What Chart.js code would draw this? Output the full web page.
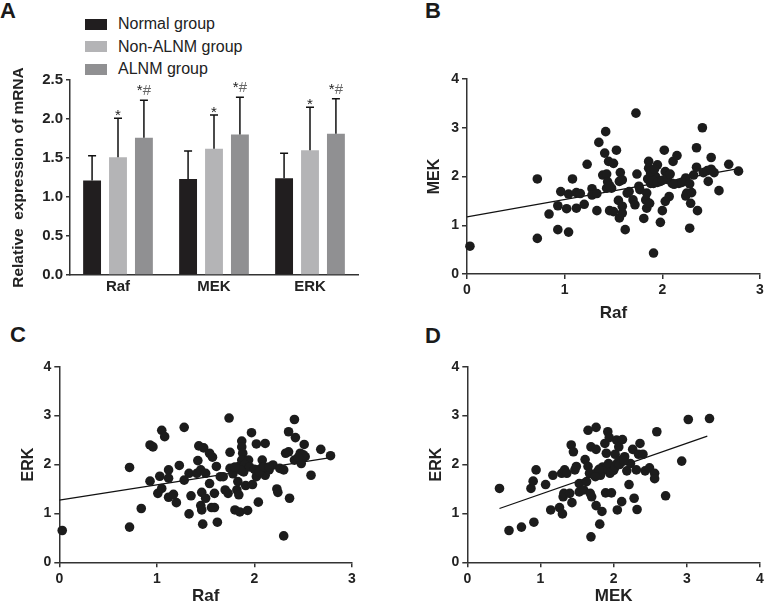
<!DOCTYPE html>
<html>
<head>
<meta charset="utf-8">
<script src="https://cdn.jsdelivr.net/npm/chart.js@4.4.0/dist/chart.umd.min.js"></script>
<style>
body{margin:0;background:#fff;width:765px;height:605px;position:relative;overflow:hidden;font-family:"Liberation Sans",Arial,sans-serif}
canvas{position:absolute}
.tag{position:absolute;font-weight:bold;font-size:22px;line-height:1;color:#1a1a1a}
.row{position:absolute;left:85px;height:22px;display:flex;align-items:center;font-size:16px;color:#222;white-space:nowrap}
.box{width:22px;height:11px;margin-right:11px}
</style>
</head>
<body>
<div class="tag" style="left:0;top:0">A</div>
<div class="tag" style="left:425px;top:0">B</div>
<div class="tag" style="left:10px;top:324px">C</div>
<div class="tag" style="left:425px;top:325px">D</div>
<div id="legend"></div>
<canvas id="chartA" width="380" height="300" style="left:0;top:0"></canvas>
<canvas id="chartB" width="385" height="325" style="left:380px;top:0"></canvas>
<canvas id="chartC" width="380" height="310" style="left:0;top:300px"></canvas>
<canvas id="chartD" width="385" height="310" style="left:380px;top:300px"></canvas>
<script>
// panel A: bar chart
const genes = ["Raf", "MEK", "ERK"];
const groups = ["Normal group", "Non-ALNM group", "ALNM group"];
const groupColors = ["#211e1f", "#b4b4b6", "#909092"];
const normalMean = [1.21, 1.23, 1.24];
const nonAlnmMean = [1.51, 1.62, 1.60];
const alnmMean = [1.76, 1.80, 1.81];
const normalSd = [0.32, 0.36, 0.32];
const nonAlnmSd = [0.50, 0.43, 0.55];
const alnmSd = [0.48, 0.48, 0.45];
const marks = [["", "", ""], ["*", "*", "*"], ["*#", "*#", "*#"]];
const yTicksA = [0, 0.5, 1.0, 1.5, 2.0, 2.5];

// panel B: Raf vs MEK
const bRaf = [0.03,0.72,0.72,0.84,0.93,0.93,0.96,1.04,1.08,1.02,1.04,1.12,1.12,1.16,1.20,1.23,1.28,1.28,1.33,1.33,
  1.35,1.42,1.41,1.39,1.43,1.45,1.50,1.44,1.43,1.48,1.46,1.53,1.46,1.50,1.55,1.57,1.56,1.59,1.56,1.59,
  1.59,1.62,1.64,1.66,1.70,1.72,1.73,1.74,1.76,1.77,1.81,1.83,1.84,1.84,1.87,1.86,1.86,1.88,1.88,1.90,
  1.91,1.91,1.95,1.93,1.98,1.98,2.00,2.02,2.03,2.03,2.05,2.07,2.10,2.11,2.15,2.17,2.22,2.24,2.24,2.25,
  2.28,2.29,2.30,2.32,2.35,2.35,2.36,2.41,2.42,2.46,2.47,2.50,2.50,2.53,2.58,2.68,2.78,
  1.85,1.90,1.95,2.00,1.88,1.92,2.05,2.08,2.12,2.20,2.28];
const bMek = [0.57,1.95,0.73,1.23,0.91,1.40,1.69,0.86,1.95,1.34,1.64,1.35,1.67,1.65,1.43,2.25,1.75,1.62,1.65,1.30,
  2.70,2.92,2.48,2.03,2.05,2.31,2.27,1.89,1.76,1.76,1.81,2.54,1.30,1.28,1.51,2.08,1.90,1.93,1.15,1.25,
  1.39,0.91,1.66,1.69,1.52,1.42,3.30,2.05,1.80,1.73,1.14,1.52,1.66,1.35,1.45,2.31,2.17,2.07,1.86,2.03,
  1.86,0.43,2.24,2.00,1.06,1.90,1.30,2.54,2.10,1.49,1.94,1.59,1.86,2.31,2.43,1.86,1.90,1.97,1.60,1.66,
  0.94,1.45,1.67,2.03,2.59,2.19,1.30,3.00,2.08,2.12,1.90,2.39,2.15,2.08,1.71,2.25,2.11,
  1.95,1.92,1.88,1.92,2.10,2.15,2.00,2.05,1.84,1.88,1.85];
const bFitRaf = [0, 2.78];
const bFitMek = [1.17, 2.16];

// panel C: Raf vs ERK
const cRaf = [0.03,0.72,0.72,0.84,0.93,0.93,0.96,1.03,1.05,1.01,1.05,1.08,1.12,1.12,1.12,1.17,1.20,1.23,1.28,1.28,
  1.33,1.35,1.33,1.41,1.42,1.43,1.45,1.46,1.45,1.46,1.47,1.48,1.50,1.50,1.54,1.54,1.57,1.56,1.59,1.59,
  1.61,1.62,1.65,1.68,1.70,1.73,1.74,1.75,1.75,1.78,1.80,1.82,1.83,1.84,1.84,1.85,1.87,1.87,1.88,1.87,
  1.89,1.89,1.91,1.93,1.94,1.97,1.98,2.02,2.02,2.04,2.04,2.08,2.08,2.11,2.11,2.12,2.15,2.19,2.23,2.24,
  2.26,2.30,2.30,2.32,2.35,2.35,2.36,2.41,2.42,2.41,2.47,2.48,2.51,2.52,2.58,2.68,2.78,
  1.90,1.95,2.00,2.05,2.10,2.15,1.86,1.80,2.50,2.45];
const cErk = [0.65,1.94,0.72,1.10,1.66,2.40,2.36,1.76,1.51,1.41,2.70,2.57,1.89,1.72,1.33,1.39,1.22,1.98,2.76,1.68,
  0.99,1.36,1.82,1.82,2.08,2.38,1.89,1.43,1.16,1.07,0.78,2.34,1.82,1.31,1.61,2.23,2.15,1.12,1.12,1.41,
  1.96,0.82,1.75,1.75,1.48,1.41,2.95,2.25,1.92,1.81,1.07,1.48,1.65,1.38,1.96,1.03,2.48,2.36,2.23,2.09,
  1.96,1.85,1.57,1.06,2.09,2.65,1.59,2.42,1.75,1.89,1.23,2.09,1.94,2.43,1.78,1.92,1.89,1.99,1.50,1.43,
  1.92,1.89,0.54,2.23,2.67,2.26,1.31,2.92,2.55,2.09,2.23,2.02,2.41,2.16,1.78,2.31,2.18,
  2.00,1.95,1.90,1.85,1.95,1.95,1.88,1.95,2.20,2.15];
const cFitRaf = [0, 2.78];
const cFitErk = [1.27, 2.14];

// panel D: MEK vs ERK
const dMek = [0.44,0.57,0.74,0.87,0.90,0.91,0.94,1.07,1.14,1.17,1.26,1.29,1.30,1.31,1.32,1.33,1.36,1.40,1.42,1.43,
  1.45,1.47,1.49,1.53,1.53,1.59,1.61,1.63,1.65,1.65,1.67,1.68,1.69,1.69,1.70,1.76,1.76,1.76,1.79,1.81,
  1.84,1.87,1.88,1.89,1.90,1.92,1.94,1.95,1.97,1.99,2.02,2.04,2.05,2.07,2.09,2.11,2.12,2.15,2.18,2.21,
  2.23,2.26,2.28,2.31,2.32,2.34,2.36,2.40,2.43,2.49,2.56,2.56,2.59,2.71,2.93,3.02,3.31,
  1.72,1.78,1.82,1.85,1.90,1.93,1.96,2.00,2.02,2.05,2.08,1.80,1.75,2.14];
const dErk = [1.51,0.65,0.72,1.51,1.66,0.82,1.89,1.59,1.07,1.78,1.12,1.82,0.99,1.34,1.41,1.89,1.82,1.41,2.40,1.22,
  2.26,1.89,1.96,1.61,1.44,1.48,2.10,1.65,2.70,1.96,1.82,1.41,0.52,2.36,1.34,2.76,2.31,1.16,1.82,0.78,
  1.04,1.89,2.43,1.42,2.23,2.67,2.55,1.82,1.42,1.96,2.21,2.50,1.07,2.36,2.09,1.24,2.51,2.16,1.87,1.59,
  2.02,2.31,1.31,1.89,1.08,2.21,2.43,2.21,1.87,1.93,1.82,1.71,2.67,1.36,2.07,2.92,2.94,
  1.80,1.85,1.78,1.95,1.92,2.02,1.85,1.88,1.95,2.03,2.00,1.90,1.75,2.08];
const dFitMek = [0.44, 3.28];
const dFitErk = [1.10, 2.58];

Chart.defaults.font.family = '"Liberation Sans", Arial, sans-serif';
Chart.defaults.color = '#222';
Chart.defaults.animation = false;

// HTML legend for panel A
const legend = document.getElementById('legend');
groups.forEach((g, i) => {
  const row = document.createElement('div');
  row.className = 'row';
  row.style.top = (13 + i * 22.7) + 'px';
  row.innerHTML = '<span class="box" style="background:' + groupColors[i] + '"></span>' + g;
  legend.appendChild(row);
});

function fixSize(size, horiz) {
  return s => {
    if (horiz) s.height = size; else s.width = size;
    s.paddingLeft = s.paddingRight = s.paddingTop = s.paddingBottom = 0;
  };
}

const means = [normalMean, nonAlnmMean, alnmMean];
const sds = [normalSd, nonAlnmSd, alnmSd];

const errorBars = {
  id: 'errorBars',
  afterDatasetsDraw(chart) {
    const ctx = chart.ctx, y = chart.scales.y;
    ctx.save();
    ctx.strokeStyle = '#111';
    ctx.lineWidth = 1.5;
    chart.data.datasets.forEach((ds, i) => {
      chart.getDatasetMeta(i).data.forEach((bar, j) => {
        const top = y.getPixelForValue(means[i][j] + sds[i][j]);
        ctx.beginPath();
        ctx.moveTo(bar.x, bar.y);
        ctx.lineTo(bar.x, top);
        ctx.moveTo(bar.x - 4, top);
        ctx.lineTo(bar.x + 4, top);
        ctx.stroke();
        const m = marks[i][j];
        if (!m) return;
        ctx.font = '15px "Liberation Sans", Arial, sans-serif';
        ctx.textBaseline = 'alphabetic';
        const base = m.length > 1 ? top - 5 : top + 2;
        const w = ctx.measureText(m).width;
        let x = bar.x - w / 2;
        for (const ch of m) {
          ctx.fillStyle = ch === '#' ? '#666' : '#222';
          ctx.textAlign = 'left';
          ctx.fillText(ch, x, base);
          x += ctx.measureText(ch).width;
        }
      });
    });
    ctx.restore();
  }
};

new Chart(document.getElementById('chartA'), {
  type: 'bar',
  data: {
    labels: genes,
    datasets: groups.map((g, i) => ({
      label: g,
      data: means[i],
      backgroundColor: groupColors[i],
      barPercentage: 0.69,
      categoryPercentage: 0.81
    }))
  },
  options: {
    responsive: false,
    devicePixelRatio: 1,
    layout: { padding: { left: 0, right: 22, top: 80, bottom: 0 } },
    plugins: { legend: { display: false }, tooltip: { enabled: false } },
    scales: {
      x: {
        grid: { display: false, drawTicks: false },
        border: { color: '#333', width: 1.5 },
        ticks: { padding: 3, font: { size: 15, weight: 'bold' }, color: '#222' },
        afterFit: fixSize(25, true)
      },
      y: {
        min: 0, max: 2.5,
        afterBuildTicks: s => { s.ticks = yTicksA.map(v => ({ value: v })); },
        ticks: { padding: 3, font: { size: 15, weight: 'bold' }, color: '#222', callback: v => v.toFixed(1) },
        grid: { drawOnChartArea: false, tickLength: 4, color: '#333', lineWidth: 1.5 },
        border: { color: '#333', width: 1.5 },
        title: { display: true, text: 'Relative  expression of mRNA', color: '#222',
          font: { size: 15.5, weight: 'bold' }, padding: { top: 9, bottom: 0 } },
        afterFit: fixSize(70, false)
      }
    }
  },
  plugins: [errorBars]
});

function axis(max, title, titleSize, titlePad, size, horiz) {
  return {
    type: 'linear', min: 0, max: max,
    ticks: { stepSize: 1, padding: 3, font: { size: 14, weight: 'bold' }, color: '#222' },
    grid: { drawOnChartArea: false, tickLength: 5, color: '#333', lineWidth: 1.5 },
    border: { color: '#333', width: 1.5 },
    title: { display: true, text: title, color: '#222', font: { size: titleSize, weight: 'bold' },
      padding: horiz ? { top: 0, bottom: titlePad } : { top: titlePad, bottom: 0 } },
    afterFit: fixSize(size, horiz)
  };
}

function scatter(id, xs, ys, fx, fy, cfg) {
  new Chart(document.getElementById(id), {
    type: 'scatter',
    data: {
      datasets: [
        { data: xs.map((v, i) => ({ x: v, y: ys[i] })), backgroundColor: '#1c1c1c',
          pointRadius: 4.8, borderWidth: 0, clip: false },
        { type: 'line', data: fx.map((v, i) => ({ x: v, y: fy[i] })), borderColor: '#111',
          borderWidth: 1.3, pointRadius: 0, fill: false }
      ]
    },
    options: {
      responsive: false,
      devicePixelRatio: 1,
      layout: { padding: cfg.padding },
      plugins: { legend: { display: false }, tooltip: { enabled: false } },
      scales: {
        x: axis(cfg.xMax, cfg.xTitle, 17, cfg.xPad, cfg.xSize, true),
        y: axis(4, cfg.yTitle, 16, cfg.yPad, cfg.ySize, false)
      }
    }
  });
}

scatter('chartB', bRaf, bMek, bFitRaf, bFitMek, {
  padding: { left: 40, right: 5, top: 79, bottom: 0 },
  xMax: 3, xTitle: 'Raf', yTitle: 'MEK', xPad: 1, xSize: 51, yPad: 5.4, ySize: 47
});
scatter('chartC', cRaf, cErk, cFitRaf, cFitErk, {
  padding: { left: 15, right: 28, top: 66.7, bottom: 0 },
  xMax: 3, xTitle: 'Raf', yTitle: 'ERK', xPad: 3.8, xSize: 47.7, yPad: 4.4, ySize: 44.3
});
scatter('chartD', dMek, dErk, dFitMek, dFitErk, {
  padding: { left: 42, right: 5, top: 66.7, bottom: 0 },
  xMax: 4, xTitle: 'MEK', yTitle: 'ERK', xPad: 3.8, xSize: 47.7, yPad: 5.4, ySize: 45.3
});
</script>
</body>
</html>
